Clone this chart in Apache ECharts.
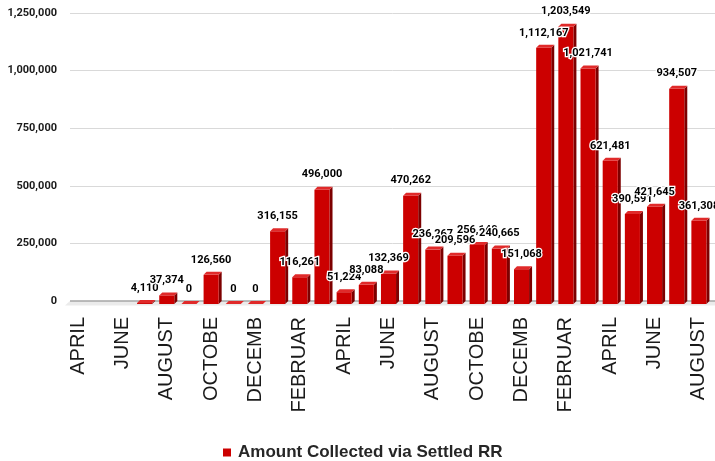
<!DOCTYPE html>
<html>
<head>
<meta charset="utf-8">
<script src="https://cdn.jsdelivr.net/npm/echarts@6/dist/echarts.min.js"></script>
<style>html,body{margin:0;padding:0;background:#fff;}#c{width:715px;height:461px;}</style>
</head>
<body>
<div id="c"></div>
<script>
const categories = ['APRIL','MAY','JUNE','JULY','AUGUST','SEPTEMBER','OCTOBE','NOVEMBER','DECEMB','JANUARY','FEBRUAR','MARCH',
  'APRIL','MAY','JUNE','JULY','AUGUST','SEPTEMBER','OCTOBE','NOVEMBER','DECEMB','JANUARY','FEBRUAR','MARCH',
  'APRIL','MAY','JUNE','JULY','AUGUST'];
const amounts = [null,null,null,4110,37374,0,126560,0,0,316155,116261,496000,
  51224,83088,132369,470262,236267,209596,256140,240665,151068,1112167,1203549,1021741,
  621481,390591,421645,934507,361308];
const yTicks = [0,250000,500000,750000,1000000,1250000];
const seriesName = 'Amount Collected via Settled RR';

const data = amounts.map((v,i)=>[i, v===null ? '-' : v]);
const D = 3;
const fmt = v => Number(v).toLocaleString('en-US');

function barItem(params, api){
  const v = api.value(1);
  if (isNaN(v)) return;
  const i = api.value(0);
  const top = api.coord([i, v]);
  const base = api.coord([i, 0]);
  const bw = api.size([1,0])[0]*0.68;
  const x0 = top[0]-bw/2, x1 = top[0]+bw/2;
  const yt = top[1]+D, yb = base[1]+D;
  return {type:'group', children:[
    {type:'polygon', shape:{points:[[x1,yt],[x1+D,yt-D],[x1+D,yb-D],[x1,yb]]}, style:{fill:'#7d0000'}},
    {type:'rect', shape:{x:x0,y:yt,width:bw,height:Math.max(0,yb-yt)}, style:{fill:'#cc0000'}},
    {type:'polygon', shape:{points:[[x0,yt],[x1,yt],[x1+D,yt-D],[x0+D,yt-D]]}, style:{fill:'#e02a2a'}}
  ]};
}
function labelItem(params, api){
  const v = api.value(1);
  if (isNaN(v)) return;
  const i = api.value(0);
  const top = api.coord([i, v]);
  return {type:'text', style:{text:fmt(v), x:top[0], y:top[1]+D-15, align:'center', verticalAlign:'middle',
    fontFamily:'Roboto', fontWeight:'bold', fontSize:11, fill:'#000', stroke:'#fff', lineWidth:2.5}};
}
function floorItem(params, api){
  const cs = params.coordSys;
  const y0 = api.coord([0,0])[1];
  const xr = cs.x + cs.width + 5;
  return {type:'group', children:[
    {type:'polygon', shape:{points:[[cs.x+3,y0],[xr,y0],[xr,y0+4.5],[cs.x-2,y0+4.5]]}, style:{fill:'#ebebeb'}},
    {type:'line', shape:{x1:cs.x+3,y1:y0,x2:xr,y2:y0}, style:{stroke:'#a6a6a6', lineWidth:1.6}}
  ]};
}

const chart = echarts.init(document.getElementById('c'), null, {renderer:'canvas'});
chart.setOption({
  animation:false,
  backgroundColor:'#fff',
  grid:[{left:67,right:5,top:13,bottom:160},{left:70,right:0,top:13,bottom:160}],
  xAxis:[
    {type:'category', gridIndex:0, data:categories,
     axisLine:{show:false}, axisTick:{show:false},
     axisLabel:{interval:1, rotate:90, margin:16, fontFamily:'Liberation Sans', fontSize:20, color:'#1a1a1a'}},
    {type:'value', gridIndex:1, show:false, min:0, max:1}
  ],
  yAxis:[
    {type:'value', gridIndex:0, min:0, max:1250000, interval:250000, show:false, splitLine:{show:false}},
    {type:'value', gridIndex:1, min:0, max:1250000, interval:250000,
     axisLine:{show:false}, axisTick:{show:false},
     axisLabel:{margin:13, fontFamily:'Roboto', fontWeight:'bold', fontSize:11, color:'#1a1a1a',
       formatter: v => yTicks.indexOf(v) >= 0 ? fmt(v) : ''},
     splitLine:{lineStyle:{color:'#d9d9d9', width:1}}}
  ],
  legend:{data:[{name:seriesName, icon:'rect'}], left:218, top:439, itemWidth:8, itemHeight:8, itemGap:8,
    textStyle:{fontFamily:'Liberation Sans', fontWeight:'bold', fontSize:17, color:'#262626', padding:[0,0,0,2]}},
  series:[
    {type:'custom', name:'floor', xAxisIndex:0, yAxisIndex:0, data:[[0,0]], renderItem:floorItem, z:1, silent:true},
    {type:'custom', name:seriesName, xAxisIndex:0, yAxisIndex:0, data:data, renderItem:barItem, z:2,
     itemStyle:{color:'#cc0000'}, encode:{x:0,y:1}},
    {type:'custom', name:'labels', xAxisIndex:0, yAxisIndex:0, data:data, renderItem:labelItem, z:3, encode:{x:0,y:1}}
  ]
});
</script>
</body>
</html>
